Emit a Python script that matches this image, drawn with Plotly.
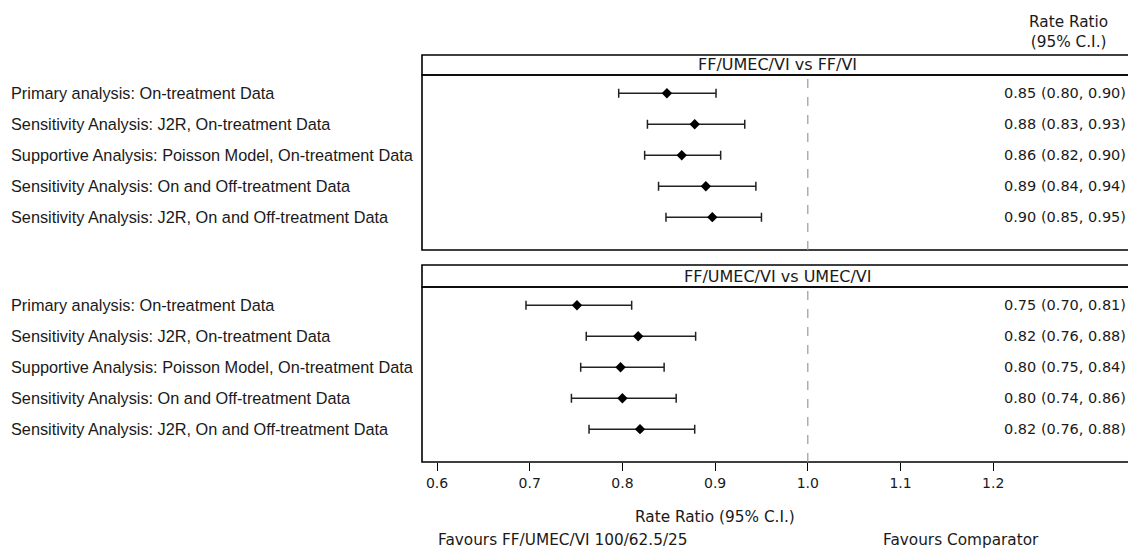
import plotly.graph_objects as go

labels = [
    "Primary analysis: On-treatment Data",
    "Sensitivity Analysis: J2R, On-treatment Data",
    "Supportive Analysis: Poisson Model, On-treatment Data",
    "Sensitivity Analysis: On and Off-treatment Data",
    "Sensitivity Analysis: J2R, On and Off-treatment Data",
]
panel_titles = ["FF/UMEC/VI vs FF/VI", "FF/UMEC/VI vs UMEC/VI"]

# Panel 1: FF/UMEC/VI vs FF/VI
p1_est = [0.848, 0.878, 0.864, 0.890, 0.897]
p1_lo = [0.796, 0.827, 0.824, 0.839, 0.847]
p1_hi = [0.901, 0.932, 0.906, 0.944, 0.950]
p1_text = ["0.85 (0.80, 0.90)", "0.88 (0.83, 0.93)", "0.86 (0.82, 0.90)",
           "0.89 (0.84, 0.94)", "0.90 (0.85, 0.95)"]

# Panel 2: FF/UMEC/VI vs UMEC/VI
p2_est = [0.751, 0.817, 0.798, 0.800, 0.819]
p2_lo = [0.696, 0.761, 0.755, 0.745, 0.764]
p2_hi = [0.810, 0.879, 0.845, 0.858, 0.878]
p2_text = ["0.75 (0.70, 0.81)", "0.82 (0.76, 0.88)", "0.80 (0.75, 0.84)",
           "0.80 (0.74, 0.86)", "0.82 (0.76, 0.88)"]

tick_vals = [0.6, 0.7, 0.8, 0.9, 1.0, 1.1, 1.2]
tick_text = ["0.6", "0.7", "0.8", "0.9", "1.0", "1.1", "1.2"]

W, H = 1128, 548
L = 422
rows = [1, 2, 3, 4, 5]

TXT = "#1a1a1a"
DV = "DejaVu Sans, Verdana, sans-serif"
LABEL_FONT = dict(family="Liberation Sans, Arial, sans-serif", size=16.3, color=TXT)
RIGHT_FONT = dict(family=DV, size=14.5, color=TXT)
HEAD_FONT = dict(family=DV, size=16, color=TXT)
BOT_FONT = dict(family=DV, size=15.3, color=TXT)

fig = go.Figure()

for est, lo, hi, yax in [(p1_est, p1_lo, p1_hi, "y"), (p2_est, p2_lo, p2_hi, "y2")]:
    fig.add_trace(go.Scatter(
        x=est, y=rows, yaxis=yax, xaxis="x" if yax == "y2" else "x2",
        mode="markers",
        marker=dict(symbol="diamond", size=8, color="black"),
        error_x=dict(type="data", symmetric=False,
                     array=[h - e for h, e in zip(hi, est)],
                     arrayminus=[e - l for e, l in zip(est, lo)],
                     color="#222222", thickness=1.5, width=4.5),
        showlegend=False, hoverinfo="skip",
    ))

def py(px):
    return (H - px) / H

def pxx(px):
    return (px - L) / (W - L)

dom1 = [py(250), py(75)]
dom2 = [py(462), py(287)]
head1 = [py(75), py(55)]
head2 = [py(287), py(265)]

xr = [0.6 - 15 / 927, 0.6 + (W - 437) / 927]
yr = [6.06, 0.41]

fig.update_layout(
    width=W, height=H,
    margin=dict(l=L, r=0, t=0, b=0),
    paper_bgcolor="white", plot_bgcolor="white",
    xaxis=dict(domain=[0, 1], range=xr, anchor="y2", tickvals=tick_vals, ticktext=tick_text,
               ticks="outside", ticklen=8, tickwidth=1.2, tickcolor="black",
               showgrid=False, zeroline=False, showline=False,
               tickfont=dict(family=DV, size=14, color=TXT)),
    xaxis2=dict(domain=[0, 1], range=xr, anchor="y", matches="x", visible=False),
    yaxis=dict(domain=dom1, range=yr, visible=False),
    yaxis2=dict(domain=dom2, range=yr, visible=False),
)

shapes = []
for dom, head in [(dom1, head1), (dom2, head2)]:
    shapes.append(dict(type="rect", xref="paper", yref="paper", x0=0, x1=1.02,
                       y0=head[0], y1=head[1], line=dict(color="black", width=1.6)))
    shapes.append(dict(type="rect", xref="paper", yref="paper", x0=0, x1=1.02,
                       y0=dom[0], y1=dom[1], line=dict(color="black", width=1.6)))
for yref in ["y domain", "y2 domain"]:
    shapes.append(dict(type="line", xref="x", yref=yref, x0=1.0, x1=1.0, y0=0, y1=1,
                       line=dict(color="#999999", width=1.2, dash="dash")))
fig.update_layout(shapes=shapes)

ann = []
for i, lab in enumerate(labels):
    for yref in ["y", "y2"]:
        ann.append(dict(text=lab, xref="paper", x=pxx(9), xanchor="left",
                        yref=yref, y=rows[i], yanchor="middle", showarrow=False,
                        font=LABEL_FONT))
for texts, yref in [(p1_text, "y"), (p2_text, "y2")]:
    for i, t in enumerate(texts):
        ann.append(dict(text=t, xref="paper", x=pxx(1128), xanchor="right",
                        yref=yref, y=rows[i], yanchor="middle", showarrow=False,
                        font=RIGHT_FONT))
for title, head in zip(panel_titles, [head1, head2]):
    ann.append(dict(text=title, xref="paper", x=pxx(777), xanchor="center",
                    yref="paper", y=(head[0] + head[1]) / 2, yanchor="middle",
                    showarrow=False, font=HEAD_FONT))
ann.append(dict(text="Rate Ratio<br>(95% C.I.)", xref="paper", x=pxx(1068), xanchor="center",
                yref="paper", y=py(32), yanchor="middle", showarrow=False,
                font=BOT_FONT, align="center"))
ann.append(dict(text="Rate Ratio (95% C.I.)", xref="x", x=0.9, xanchor="center",
                yref="paper", y=py(517), yanchor="middle", showarrow=False, font=BOT_FONT))
ann.append(dict(text="Favours FF/UMEC/VI 100/62.5/25", xref="paper", x=pxx(436), xanchor="left",
                yref="paper", y=py(540), yanchor="middle", showarrow=False, font=BOT_FONT))
ann.append(dict(text="Favours Comparator", xref="paper", x=pxx(881), xanchor="left",
                yref="paper", y=py(540), yanchor="middle", showarrow=False, font=BOT_FONT))
fig.update_layout(annotations=ann)

fig.write_html("out.html")
